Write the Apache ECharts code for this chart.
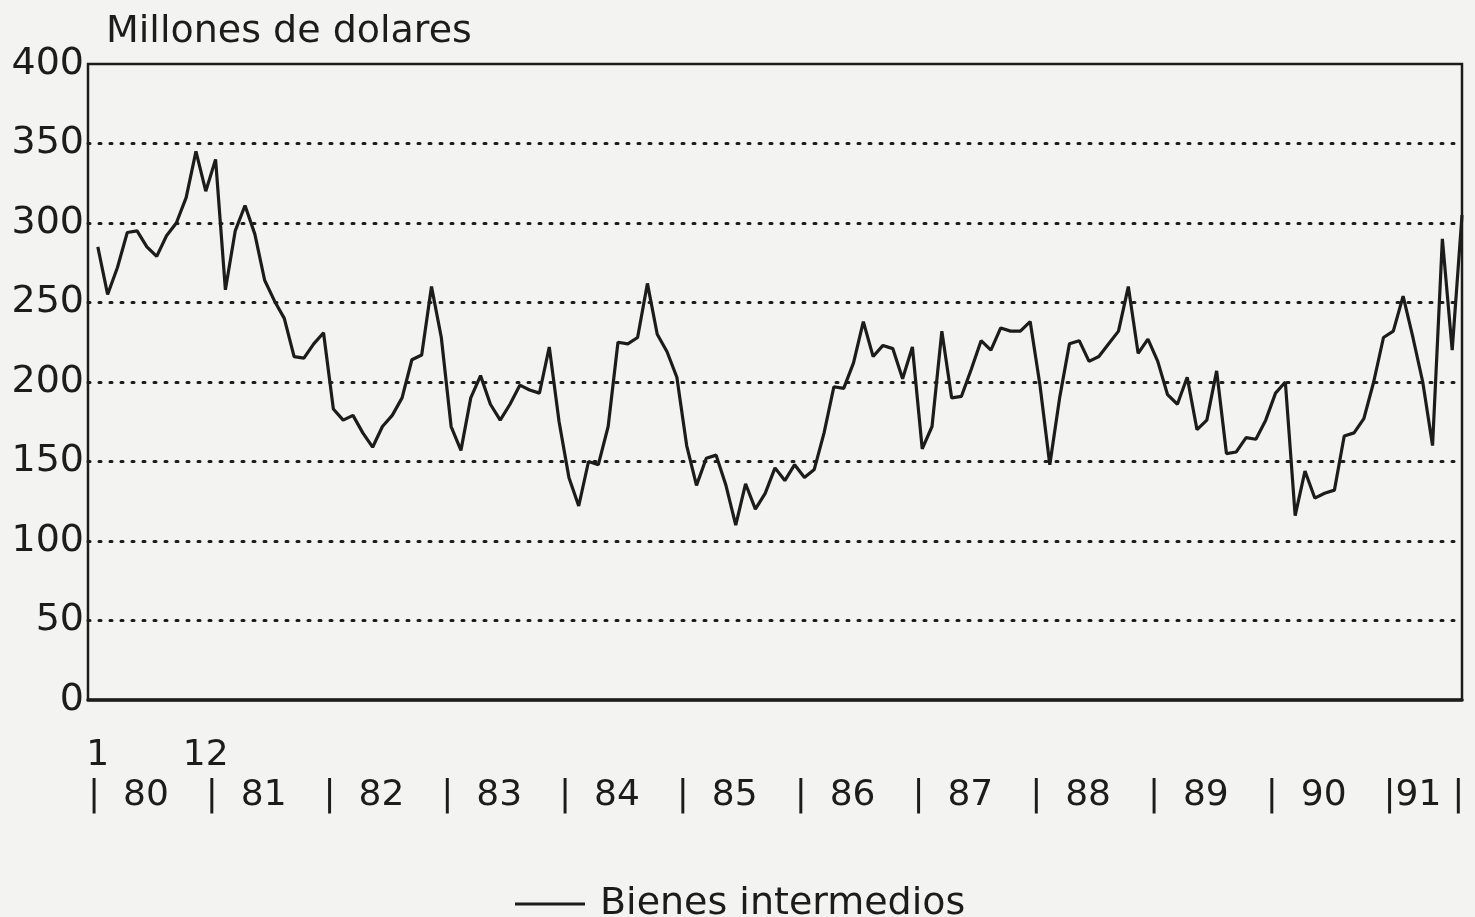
<!DOCTYPE html>
<html>
<head>
<meta charset="utf-8">
<title>Bienes intermedios</title>
<script src="https://cdn.jsdelivr.net/npm/echarts@6/dist/echarts.min.js"></script>
<style>
  html, body { margin: 0; padding: 0; background: #f3f3f1; }
  #main { width: 1475px; height: 917px; }
</style>
</head>
<body>
<div id="main"></div>
<script>
// valores mensuales (millones de dolares)
var v1980 = [285, 255, 272, 294, 295, 285, 279, 292, 300, 316, 345, 320];
var v1981 = [340, 258, 295, 311, 293, 264, 251, 240, 216, 215, 224, 231];
var v1982 = [183, 176, 179, 168, 159, 172, 179, 190, 214, 217, 260, 228];
var v1983 = [172, 157, 190, 204, 186, 176, 186, 198, 195, 193, 222, 175];
var v1984 = [140, 122, 150, 148, 172, 225, 224, 228, 262, 230, 219, 203];
var v1985 = [160, 135, 152, 154, 135, 110, 136, 120, 130, 146, 138, 148];
var v1986 = [140, 145, 168, 197, 196, 212, 238, 216, 223, 221, 202, 222];
var v1987 = [158, 172, 232, 190, 191, 208, 226, 220, 234, 232, 232, 238];
var v1988 = [198, 148, 190, 224, 226, 213, 216, 224, 232, 260, 218, 227];
var v1989 = [213, 192, 186, 203, 170, 176, 207, 155, 156, 165, 164, 176];
var v1990 = [193, 200, 116, 144, 127, 130, 132, 166, 168, 177, 200, 228];
var v1991 = [232, 254, 228, 200, 160, 290, 220, 305];

var years = ['80', '81', '82', '83', '84', '85', '86', '87', '88', '89', '90', '91'];
var monthMarks = ['1', '12'];   // primer y ultimo mes de 1980
var yTicks = [0, 50, 100, 150, 200, 250, 300, 350, 400];

var bienes = [].concat(v1980, v1981, v1982, v1983, v1984, v1985,
                       v1986, v1987, v1988, v1989, v1990, v1991);

var ink = '#1c1c1c';
var font = 'DejaVu Sans';

var myChart = echarts.init(document.getElementById('main'));

// posiciones de las marcas de año (un mes antes de enero) y barra final
var yearPos = years.map(function (y, k) { return 12 * k - 1; });
var endPos = bienes.length - 2;

var option = {
  backgroundColor: '#f3f3f1',
  animation: false,
  title: {
    text: 'Millones de dolares',
    left: 106,
    top: 13,
    padding: 0,
    textStyle: { fontFamily: font, fontSize: 38, fontWeight: 'normal', color: ink }
  },
  legend: {
    data: [{ name: 'Bienes intermedios', icon: 'rect' }],
    left: 510,
    top: 880,
    itemWidth: 70,
    itemHeight: 3,
    textStyle: { fontFamily: font, fontSize: 38, color: ink, padding: [0, 0, 0, 10] }
  },
  grid: {
    left: 88,
    right: 13,
    top: 64,
    bottom: 217,
    show: true,
    borderColor: ink,
    borderWidth: 2.5,
    backgroundColor: 'transparent'
  },
  xAxis: [
    {
      type: 'value',
      min: -1,
      max: bienes.length - 1,
      axisLine: { show: true, lineStyle: { color: ink, width: 3.5 } },
      axisTick: { show: false },
      splitLine: { show: false },
      axisLabel: {
        customValues: [0, 11],
        formatter: function (val) { return val === 0 ? monthMarks[0] : monthMarks[1]; },
        fontFamily: font,
        fontSize: 36,
        color: ink,
        margin: 38
      }
    },
    {
      type: 'value',
      min: -1,
      max: bienes.length - 1,
      position: 'bottom',
      axisLine: { show: false },
      axisTick: { show: false },
      splitLine: { show: false },
      axisLabel: {
        customValues: yearPos.concat([endPos]),
        formatter: function (val) {
          if (val === endPos) return '|';
          var k = (val + 1) / 12;
          if (k === years.length - 1) return '|' + years[k];
          return '|  ' + years[k];
        },
        align: 'left',
        fontFamily: font,
        fontSize: 36,
        color: ink,
        margin: 78
      }
    }
  ],
  yAxis: {
    type: 'value',
    min: yTicks[0],
    max: yTicks[yTicks.length - 1],
    interval: 50,
    axisLine: { show: false },
    axisTick: { show: false },
    axisLabel: { fontFamily: font, fontSize: 38, color: ink, margin: 4 },
    splitLine: {
      show: true,
      showMinLine: false,
      showMaxLine: false,
      lineStyle: { color: ink, width: 3, type: [2, 9], cap: 'round' }
    }
  },
  series: [
    {
      name: 'Bienes intermedios',
      type: 'line',
      symbol: 'none',
      data: bienes.map(function (v, i) { return [i, v]; }),
      lineStyle: { color: ink, width: 3.2 },
      itemStyle: { color: ink }
    }
  ]
};

myChart.setOption(option);
</script>
</body>
</html>
